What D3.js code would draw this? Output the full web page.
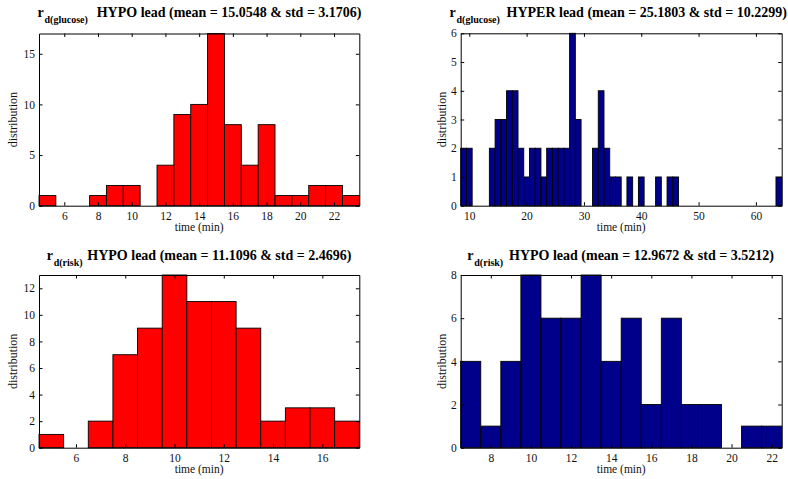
<!DOCTYPE html>
<html>
<head>
<meta charset="utf-8">
<script src="https://cdn.jsdelivr.net/npm/d3@7"></script>
<style>
  html, body { margin: 0; padding: 0; background: #fff; }
  svg { display: block; }
  text { font-family: "Liberation Serif", "Times New Roman", serif; }
</style>
</head>
<body>
<svg id="chart" width="788" height="479"></svg>
<script>
// ---- data ----
const p1Centers = [5,6,7,8,9,10,11,12,13,14,15,16,17,18,19,20,21,22,23];
const p1Counts  = [1,0,0,1,2,2,0,4,9,10,17,8,4,8,1,1,2,2,1];
const p1Ticks   = [6,8,10,12,14,16,18,20,22];
const p1YTicks  = [0,5,10,15];

const p2Centers = [9,10,11,12,13,14,15,16,17,18,19,20,21,22,23,24,25,26,27,28,29,30,31,32,33,34,35,36,37,38,39,40,41,42,43,44,45,46,47,48,49,50,51,52,53,54,55,56,57,58,59,60,61,62,63,64];
const p2Counts  = [2,2,0,0,0,2,3,3,4,4,2,1,2,2,1,2,2,2,2,6,3,0,0,2,4,2,1,1,0,1,0,1,0,0,1,0,1,1,0,0,0,0,0,0,0,0,0,0,0,0,0,0,0,0,0,1];
const p2Ticks   = [10,20,30,40,50,60];
const p2YTicks  = [0,1,2,3,4,5,6];

const p3Centers = [5,6,7,8,9,10,11,12,13,14,15,16,17];
const p3Counts  = [1,0,2,7,9,13,11,11,9,2,3,3,2];
const p3Ticks   = [6,8,10,12,14,16];
const p3YTicks  = [0,2,4,6,8,10,12];

const p4Centers = [7,8,9,10,11,12,13,14,15,16,17,18,19,20,21,22];
const p4Counts  = [4,1,4,8,6,6,8,4,6,2,6,2,2,0,1,1];
const p4Ticks   = [8,10,12,14,16,18,20,22];
const p4YTicks  = [0,2,4,6,8];

const subs   = ["d(glucose)", "d(glucose)", "d(risk)", "d(risk)"];
const mains  = ["HYPO lead (mean = 15.0548 & std = 3.1706)",
                "HYPER lead (mean = 25.1803 & std = 10.2299)",
                "HYPO lead (mean = 11.1096 & std = 2.4696)",
                "HYPO lead (mean = 12.9672 & std = 3.5212)"];
const xLabel = "time (min)";
const yLabel = "distribution";

// ---- layout ----
const panels = [
  {centers:p1Centers, counts:p1Counts, xt:p1Ticks, yt:p1YTicks, xd:[4.5,23.5], yd:[0,17], color:"#ff0000",
   box:{l:39, r:359.3, t:33.5, b:205.7}, rx:37.5, mx:96.7, ty:17.3, ylx:17.3},
  {centers:p2Centers, counts:p2Counts, xt:p2Ticks, yt:p2YTicks, xd:[8.5,64.5], yd:[0,6], color:"#00008b",
   box:{l:460.7, r:781.7, t:33.3, b:205.7}, rx:449.5, mx:506.5, ty:17.3, ylx:445.5},
  {centers:p3Centers, counts:p3Counts, xt:p3Ticks, yt:p3YTicks, xd:[4.5,17.5], yd:[0,13], color:"#ff0000",
   box:{l:39, r:359.3, t:275, b:447.7}, rx:46.7, mx:87.3, ty:260, ylx:17.3},
  {centers:p4Centers, counts:p4Counts, xt:p4Ticks, yt:p4YTicks, xd:[6.5,22.5], yd:[0,8], color:"#00008b",
   box:{l:460.7, r:781.7, t:275, b:447.7}, rx:467.3, mx:509, ty:260, ylx:445.5}
];

const svg = d3.select("#chart");
const binW = 1;
const tickLen = 3.5;

panels.forEach((p, i) => {
  const B = p.box;
  const x = d3.scaleLinear().domain(p.xd).range([B.l, B.r]);
  const y = d3.scaleLinear().domain(p.yd).range([B.b, B.t]);
  const g = svg.append("g");

  // bars
  g.selectAll("rect.bar").data(p.centers.map((c, k) => ({c, v: p.counts[k]})))
    .enter().append("rect")
    .attr("class", "bar")
    .attr("x", d => x(d.c - binW/2))
    .attr("width", d => x(d.c + binW/2) - x(d.c - binW/2))
    .attr("y", d => y(d.v))
    .attr("height", d => y(0) - y(d.v))
    .attr("fill", p.color)
    .attr("stroke", "#000")
    .attr("stroke-width", 0.9);

  // axes via d3 axis generators (ticks inward)
  const fmt = d3.format("d");
  const axB = d3.axisBottom(x).tickValues(p.xt).tickFormat(fmt).tickSizeInner(-tickLen).tickSizeOuter(0).tickPadding(6);
  const axT = d3.axisTop(x).tickValues(p.xt).tickFormat("").tickSizeInner(-tickLen).tickSizeOuter(0);
  const axL = d3.axisLeft(y).tickValues(p.yt).tickFormat(fmt).tickSizeInner(-tickLen).tickSizeOuter(0).tickPadding(4);
  const axR = d3.axisRight(y).tickValues(p.yt).tickFormat("").tickSizeInner(-tickLen).tickSizeOuter(0);

  const styleAx = sel => {
    sel.select(".domain").attr("stroke", "#000").attr("stroke-width", 1);
    sel.selectAll(".tick line").attr("stroke", "#000").attr("stroke-width", 1);
    sel.selectAll(".tick text").attr("fill", "#111").style("font-size", "11.5px")
       .style("font-family", '"Liberation Serif", "Times New Roman", serif');
  };
  g.append("g").attr("transform", `translate(0,${B.b})`).call(axB).call(styleAx);
  g.append("g").attr("transform", `translate(0,${B.t})`).call(axT).call(styleAx);
  g.append("g").attr("transform", `translate(${B.l},0)`).call(axL).call(styleAx);
  g.append("g").attr("transform", `translate(${B.r},0)`).call(axR).call(styleAx);

  // axis labels
  g.append("text")
    .attr("x", (B.l + B.r) / 2).attr("y", B.b + 25.5)
    .attr("text-anchor", "middle").style("font-size", "11.5px").attr("fill", "#111")
    .text(xLabel);
  g.append("text")
    .attr("transform", `translate(${p.ylx},${(B.t + B.b) / 2}) rotate(-90)`)
    .attr("text-anchor", "middle").style("font-size", "12px").attr("fill", "#111")
    .text(yLabel);

  // title
  g.append("text").attr("x", p.rx).attr("y", p.ty)
    .style("font-size", "14px").style("font-weight", "bold").text("r");
  g.append("text").attr("x", p.rx + 7).attr("y", p.ty + 6)
    .style("font-size", "10px").style("font-weight", "bold").text(subs[i]);
  g.append("text").attr("x", p.mx).attr("y", p.ty)
    .style("font-size", "14px").style("font-weight", "bold").text(mains[i]);
});
</script>
</body>
</html>
